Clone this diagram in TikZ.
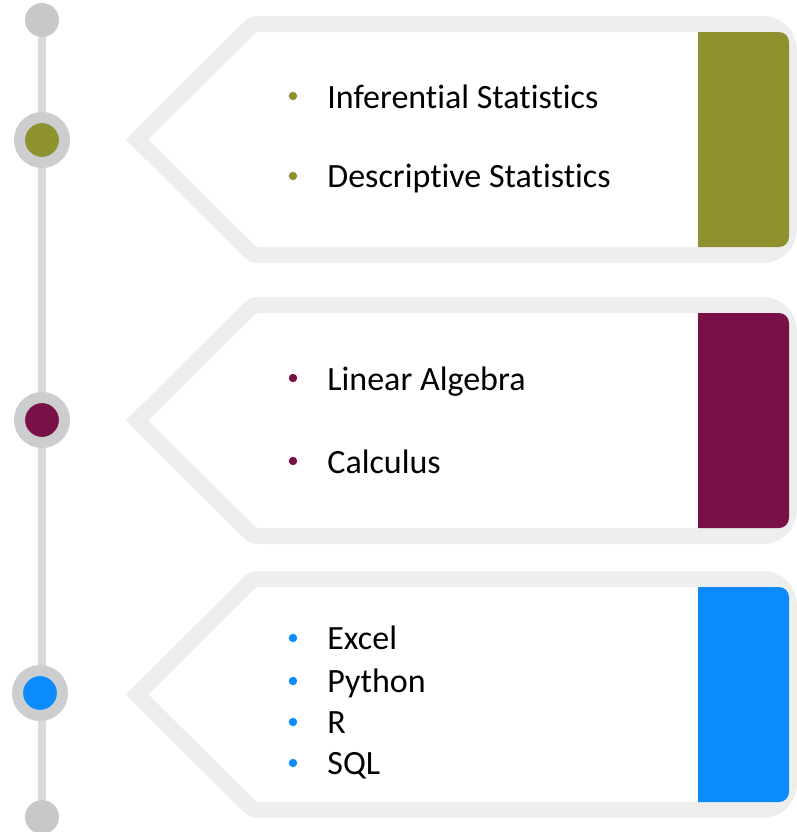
\documentclass[tikz,border=0pt]{standalone}
\usepackage{fontspec}
\setmainfont{Carlito}[Ligatures=NoCommon]
\usepackage{xcolor}
\usetikzlibrary{positioning}
\usetikzlibrary{backgrounds}

\definecolor{olivetab}{HTML}{8F902E}
\definecolor{plumtab}{HTML}{7A1048}
\definecolor{bluetab}{HTML}{0C8BFF}
\definecolor{bandgray}{HTML}{EDEEEE}
\definecolor{spinegray}{HTML}{D9DADC}
\definecolor{ringgray}{HTML}{CBCDCF}
\definecolor{capgray}{HTML}{C8C8CA}

\begin{document}
\begin{tikzpicture} [
            x=0.5pt, y=-0.5pt,
            % ----- Node definitions ----- %
            spine/.style = {
                draw = spinegray,
                line width = 4pt
            },
            capdot/.style = {
                circle,
                fill = capgray,
                inner sep = 0pt,
                minimum size = 17pt
            },
            ringdot/.style = {
                circle,
                draw = ringgray,
                line width = 5.5pt,
                fill = #1,
                inner sep = 0pt,
                minimum size = 22.5pt
            },
            panel/.style = {
                draw = bandgray,
                fill = white,
                line width = 8pt
            },
            bullet/.style = {
                circle,
                fill = #1,
                inner sep = 0pt,
                minimum size = 4.2pt
            },
            item/.style = {
                anchor = base west,
                inner sep = 0pt,
                font = \fontsize{17}{20}\selectfont
            },
    ]
    \useasboundingbox (0,0) rectangle (797,832);

            % ----- Panels with coloured tabs ----- %
        \foreach \top/\col in {24/olivetab, 305/plumtab, 579/bluetab} {
            \pgfmathsetmacro{\bot}{\top+231}
            \pgfmathsetmacro{\mid}{\top+115.5}
            \draw[panel] (263,\top) -- (763,\top)
                arc[start angle=90, end angle=0, radius=13pt] -- (789,\bot-26)
                arc[start angle=0, end angle=-90, radius=13pt] -- (263,\bot)
                .. controls (253,\bot) .. (246,\bot-7) -- (137,\mid)
                -- (246,\top+7) .. controls (253,\top) .. cycle;
            \fill[\col] (698,\top+8) -- (779,\top+8)
                arc[start angle=90, end angle=0, radius=5pt] -- (789,\bot-18)
                arc[start angle=0, end angle=-90, radius=5pt] -- (698,\bot-8) -- cycle;
        }

            % ----- Timeline ----- %
        \node[capdot] (top) at (42,20) {};
        \node[capdot] (bottom) at (42,817) {};
        \node[ringdot=olivetab] (stats) at (42,140) {};
        \node[ringdot=plumtab] (maths) at (42,420) {};
        \node[ringdot=bluetab] (tools) at (40,693) {};
        \begin{scope}[on background layer]
            \draw[spine] (top) -- (bottom);
        \end{scope}

            % ----- Items ----- %
        \node[item] (inferential) at (327,108) {Inferential Statistics};
        \node[item] (descriptive) at (327,187) {Descriptive Statistics};
        \node[bullet=olivetab] at (293,96) {};
        \node[bullet=olivetab] at (293,176) {};

        \node[item] (linear) at (327,390) {Linear Algebra};
        \node[item] (calculus) at (327,473) {Calculus};
        \node[bullet=plumtab] at (293,378) {};
        \node[bullet=plumtab] at (293,461) {};

        \node[item] (excel) at (327,649) {Excel};
        \node[item] (python) at (327,692) {Python};
        \node[item] (r) at (327,733) {R};
        \node[item] (sql) at (327,774) {SQL};
        \foreach \y in {638,681,722,763}
            \node[bullet=bluetab] at (293,\y) {};
          
\end{tikzpicture}
\end{document}
